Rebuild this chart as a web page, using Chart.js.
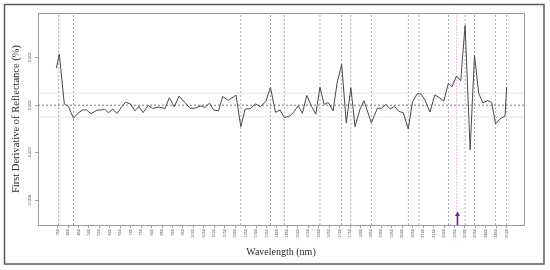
<!DOCTYPE html>
<html><head><meta charset="utf-8">
<script src="https://cdn.jsdelivr.net/npm/chart.js@4"></script>
<style>html,body{margin:0;padding:0;background:#fff}canvas{display:block}</style>
</head><body>
<canvas id="c" width="550" height="270"></canvas>
<script>
// Wavelength (nm) of each vertex of the first-derivative curve
const wavelengths = [344, 358, 382, 401, 426, 447, 469, 488, 510, 536, 560, 575, 593, 614, 634, 655, 675, 699, 720, 739, 759, 784, 805, 832, 864, 885, 908, 932, 960, 984, 1008, 1032, 1056, 1077, 1097, 1120, 1140, 1167, 1204, 1227, 1248, 1272, 1297, 1321, 1347, 1369, 1393, 1415, 1435, 1463, 1482, 1502, 1522, 1543, 1566, 1586, 1606, 1626, 1646, 1669, 1688, 1710, 1732, 1754, 1774, 1798, 1817, 1852, 1881, 1901, 1922, 1942, 1962, 1984, 2005, 2029, 2049, 2072, 2090, 2110, 2133, 2156, 2180, 2199, 2221, 2238, 2260, 2280, 2301, 2325, 2346, 2366, 2386, 2409, 2428, 2447, 2468, 2492, 2500];
// First derivative of reflectance
const derivative = [0.00155, 0.00214, 0.00005, -0.00005, -0.00055, -0.00034, -0.0002, -0.0002, -0.00036, -0.00022, -0.0002, -0.00016, -0.00032, -0.00016, -0.00035, -0.00009, 0.00012, 0.00005, -0.00024, -0.00005, -0.00031, -0.00001, -0.00014, -0.00008, -0.00014, 0.00031, -0.00007, 0.00038, 0.0001, -0.00013, -0.00013, -0.00003, -0.00009, 0.00008, -0.0002, -0.00024, 0.00036, 0.0002, 0.00042, -0.0009, -0.00016, -0.00015, 0.00005, -0.00006, 0.00016, 0.00075, -0.0003, -0.0002, -0.00052, -0.00045, -0.00027, -0.00003, -0.00034, 0.00041, -0.00006, -0.00038, 0.00075, 0.00003, 0.00011, -0.00024, 0.00092, 0.00171, -0.00075, 0.00073, -0.0009, -0.00016, 0.00018, -0.00074, -0.00013, -0.00013, 0.00003, -0.00016, -0.00005, -0.00026, -0.00032, -0.001, 0.00014, 0.00048, 0.00047, 0.00019, -0.00029, 0.00043, 0.0003, 0.00017, 0.00092, 0.00077, 0.00122, 0.00102, 0.00334, -0.00187, 0.00209, 0.0005, 0.0001, 0.00019, 0.00012, -0.00079, -0.00057, -0.00046, 0.00075];
// Selected wavelengths (dashed vertical markers)
const markerWavelengths = [355, 426, 1227, 1369, 1435, 1606, 1710, 1754, 1852, 2029, 2080, 2221, 2301, 2346, 2447, 2500];
const highlightWavelength = 2260;
const arrowTipValue = -0.00445;
const bandValues = [-0.0005, 0.0005];
const zeroValue = 0;
const xTickValues = [350, 400, 450, 500, 550, 600, 650, 700, 750, 800, 850, 900, 950, 1000, 1050, 1100, 1150, 1200, 1250, 1300, 1350, 1400, 1450, 1500, 1550, 1600, 1650, 1700, 1750, 1800, 1850, 1900, 1950, 2000, 2050, 2100, 2150, 2200, 2250, 2300, 2350, 2400, 2450, 2500];
const yTickValues = [-0.004, -0.002, 0, 0.002];
const xRange = [256, 2583];
const yRange = [-0.00502, 0.00386];

const curve = wavelengths.map((w, i) => ({x: w, y: derivative[i]}));
const vLine = (w, color, dash, width) => ({
  data: [{x: w, y: yRange[0]}, {x: w, y: yRange[1]}],
  borderColor: color, borderWidth: width, borderDash: dash, pointRadius: 0, order: 1
});
const hLine = (v, color, dash, width) => ({
  data: [{x: xRange[0], y: v}, {x: xRange[1], y: v}],
  borderColor: color, borderWidth: width, borderDash: dash, pointRadius: 0, order: 1
});

const datasets = [
  {data: curve, borderColor: '#4a4a4a', borderWidth: 1, pointRadius: 0, tension: 0, order: 0},
  hLine(bandValues[0], '#e4e4e4', [], 1),
  hLine(bandValues[1], '#e4e4e4', [], 1),
  hLine(zeroValue, '#5a5a5a', [2, 2], 0.8),
  ...markerWavelengths.map(w => vLine(w, '#9a9a9a', [2, 2], 0.8)),
  vLine(highlightWavelength, '#eaa6ea', [1.5, 1.5], 0.9)
];

const decor = {
  id: 'decor',
  beforeDraw(chart) {
    const c = chart.ctx;
    c.save(); c.fillStyle = '#fff'; c.fillRect(0, 0, chart.width, chart.height); c.restore();
  },
  afterDatasetsDraw(chart) {
    const c = chart.ctx;
    const xs = chart.scales.x, ys = chart.scales.y;
    c.save();
    const ax = Math.round(xs.getPixelForValue(highlightWavelength)) + 0.5;
    const yb = ys.getPixelForValue(yRange[0]);
    const yt = ys.getPixelForValue(arrowTipValue);
    c.strokeStyle = '#6b2d8e'; c.fillStyle = '#6b2d8e'; c.lineWidth = 1.6;
    c.beginPath(); c.moveTo(ax, yb); c.lineTo(ax, yt + 3); c.stroke();
    c.beginPath(); c.moveTo(ax, yt); c.lineTo(ax - 2.6, yt + 4.5); c.lineTo(ax + 2.6, yt + 4.5); c.closePath(); c.fill();
    c.restore();
  },
  afterDraw(chart) {
    const c = chart.ctx, a = chart.chartArea;
    c.save();
    c.strokeStyle = '#9c9c9c'; c.lineWidth = 1;
    c.strokeRect(Math.round(a.left) + 0.5, Math.round(a.top) + 0.5, Math.round(a.right - a.left), Math.round(a.bottom - a.top));
    c.strokeStyle = '#5a5a5a'; c.lineWidth = 1.5;
    c.strokeRect(4.5, 4.5, 539.5, 259.5);
    c.restore();
  }
};

new Chart(document.getElementById('c'), {
  type: 'line',
  data: {datasets},
  plugins: [decor],
  options: {
    responsive: false, animation: false, devicePixelRatio: 1,
    layout: {padding: {left: 0, top: 13, right: 26, bottom: 0}},
    plugins: {legend: {display: false}, tooltip: {enabled: false}},
    scales: {
      x: {
        type: 'linear', min: xRange[0], max: xRange[1],
        afterBuildTicks: s => { s.ticks = xTickValues.map(v => ({value: v})); },
        afterFit: s => { s.height = 45; },
        ticks: {autoSkip: false, minRotation: 90, maxRotation: 90, padding: 1, color: '#555',
          font: {family: 'Liberation Sans', size: 3.9}, callback: v => String(v)},
        grid: {drawOnChartArea: false, drawTicks: true, tickLength: 3, color: '#8a8a8a', lineWidth: 0.8},
        border: {display: false},
        title: {display: true, text: 'Wavelength (nm)', color: '#2a2a2a',
          font: {family: 'Liberation Serif', size: 10}, padding: {top: 0, bottom: 12}}
      },
      y: {
        type: 'linear', min: yRange[0], max: yRange[1],
        afterBuildTicks: s => { s.ticks = yTickValues.map(v => ({value: v})); },
        afterFit: s => { s.width = 38; },
        ticks: {minRotation: 90, maxRotation: 90, crossAlign: 'center', padding: 0, color: '#555',
          font: {family: 'Liberation Sans', size: 3.9}, callback: v => Number(v).toFixed(3)},
        grid: {drawOnChartArea: false, drawTicks: true, tickLength: 3, color: '#8a8a8a', lineWidth: 0.8},
        border: {display: false},
        title: {display: true, text: 'First Derivative of Reflectance (%)', color: '#2a2a2a',
          font: {family: 'Liberation Serif', size: 10.5}, padding: {top: 10, bottom: 0}}
      }
    }
  }
});
</script>
</body></html>
